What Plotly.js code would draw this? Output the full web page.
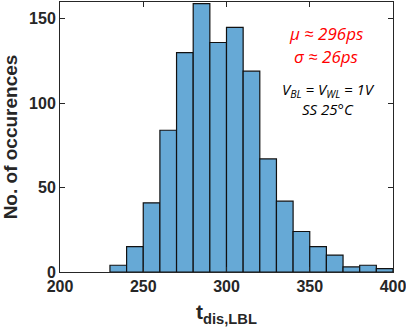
<!DOCTYPE html>
<html><head><meta charset="utf-8">
<script src="https://cdn.plot.ly/plotly-3.0.1.min.js"></script>
<style>html,body{margin:0;padding:0;background:#fff}#chart{width:406px;height:334px}</style>
</head><body><div id="chart"></div>
<script>
const binCenters = [235,245,255,265,275,285,295,305,315,325,335,345,355,365,375,385,395];
const counts = [4,15,41,84,130,159,136,145,119,67,42,24,15,10,3,4,2];
const xTicks = [200,250,300,350,400];
const yTicks = [0,50,100,150];

const trace = {
  type:'bar', x:binCenters, y:counts, width:10,
  marker:{color:'#66a9d6', line:{color:'#111', width:1.2}},
  hoverinfo:'skip'
};
const tf = {family:'Liberation Sans, Arial, sans-serif', size:16, color:'#262626'};
const annFont = {family:'Open Sans, Liberation Sans, sans-serif', size:17};
const layout = {
  width:406, height:334,
  margin:{l:60, r:13, t:2, b:62},
  paper_bgcolor:'#fff', plot_bgcolor:'#fff',
  showlegend:false, bargap:0,
  xaxis:{range:[200,400], tickvals:xTicks, ticktext:xTicks.map(v=>'<b>'+v+'</b>'),
    ticklabeloverflow:'allow',
    ticks:'inside', ticklen:5, tickcolor:'#262626', mirror:'allticks', showline:true,
    linecolor:'#262626', linewidth:1, showgrid:false, zeroline:false, tickfont:tf,
    title:{text:'<b>t<sub>dis,LBL</sub></b>', font:{family:'Liberation Sans, Arial, sans-serif', size:21, color:'#262626'}, standoff:10}},
  yaxis:{range:[0,160], tickvals:yTicks, ticktext:yTicks.map(v=>'<b>'+v+'</b>'),
    ticklabeloverflow:'allow',
    ticks:'inside', ticklen:5, tickcolor:'#262626', mirror:'allticks', showline:true,
    linecolor:'#262626', linewidth:1, showgrid:false, zeroline:false, tickfont:tf,
    title:{text:'<b>No. of occurences</b>', font:{family:'Liberation Sans, Arial, sans-serif', size:19, color:'#262626'}, standoff:6}},
  annotations:[
    {xref:'paper', yref:'paper', x:0.8, y:0.885, xanchor:'center', yanchor:'middle', text:'<i>μ ≈ 296ps</i>', showarrow:false, font:Object.assign({},annFont,{color:'#ff0000'})},
    {xref:'paper', yref:'paper', x:0.8, y:0.797, xanchor:'center', yanchor:'middle', text:'<i>σ ≈ 26ps</i>', showarrow:false, font:Object.assign({},annFont,{color:'#ff0000'})},
    {xref:'paper', yref:'paper', x:0.805, y:0.674, xanchor:'center', yanchor:'middle', text:'<i>V<sub>BL</sub> = V<sub>WL</sub> = 1V</i>', showarrow:false, font:Object.assign({},annFont,{size:15, color:'#000'})},
    {xref:'paper', yref:'paper', x:0.805, y:0.604, xanchor:'center', yanchor:'middle', text:'<i>SS 25°C</i>', showarrow:false, font:Object.assign({},annFont,{size:15, color:'#000'})}
  ]
};
Plotly.newPlot('chart',[trace],layout,{displayModeBar:false, staticPlot:true});
</script></body></html>
